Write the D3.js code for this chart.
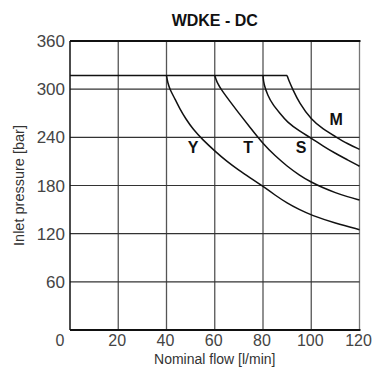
<!DOCTYPE html>
<html lang="en">
<head>
<meta charset="UTF-8">
<title>WDKE - DC</title>
<script src="https://d3js.org/d3.v7.min.js"></script>
<style>
  body { margin: 0; background: #fff; }
  svg text { font-family: 'Liberation Sans', Arial, sans-serif; }
</style>
</head>
<body>
<div id="chart"></div>
<script>
// axis ticks
const xTicks = [0, 20, 40, 60, 80, 100, 120];
const yTicks = [60, 120, 180, 240, 300, 360];

// limit line (max pressure) in [flow, pressure]
const limitLine = [[0, 317], [90, 317]];

// characteristic curves [flow, pressure]
const curveY = [[40, 317], [40.5, 308], [41.5, 299], [43.5, 288], [45.6, 275], [48, 263], [51, 250], [55, 237],
  [60, 223], [65, 210], [70, 199], [75, 189], [80, 179], [85, 168], [90, 158], [95, 150], [100, 143],
  [110, 133], [120, 125]];
const curveT = [[60, 317], [60.8, 309], [63, 298], [66, 286], [70, 270], [75, 251], [80, 232], [85, 217],
  [90, 204], [95, 193], [100, 184], [105, 177], [110, 171], [115, 166], [120, 162]];
const curveS = [[80, 317], [80.3, 306], [82, 292], [84, 281], [87, 270], [90, 259], [95, 248], [100, 239],
  [105, 229], [110, 220], [115, 212], [120, 204]];
const curveM = [[90, 317], [90.8, 310], [92.3, 300], [95, 283], [100, 262], [105, 250], [110, 241],
  [115, 232], [120, 225]];

const curveNames = ["Y", "T", "S", "M"];
const labelPos = [[51, 220], [73.8, 220.5], [95.8, 221], [110.3, 255]];

const W = 372, H = 372;
const svg = d3.select("#chart").append("svg")
  .attr("width", W).attr("height", H);

const x = d3.scaleLinear().domain([0, 120]).range([70, 359.5]);
const y = d3.scaleLinear().domain([0, 360]).range([330, 41]);

// title
svg.append("text")
  .attr("x", (x(0) + x(120)) / 2).attr("y", 26)
  .attr("text-anchor", "middle")
  .attr("font-size", "16px").attr("font-weight", "bold")
  .attr("fill", "#111")
  .text("WDKE - DC");

// grid
svg.append("g").selectAll("line")
  .data(xTicks.filter(d => d > 0))
  .join("line")
  .attr("x1", d => x(d)).attr("x2", d => x(d))
  .attr("y1", y(0)).attr("y2", y(360))
  .attr("stroke", d => d === 120 ? "#777" : "#555")
  .attr("stroke-width", 1.3);

svg.append("g").selectAll("line")
  .data(yTicks.filter(d => d < 360))
  .join("line")
  .attr("x1", x(0)).attr("x2", x(120))
  .attr("y1", d => y(d)).attr("y2", d => y(d))
  .attr("stroke", "#333")
  .attr("stroke-width", 1.2);

// frame: top, bottom, left
svg.append("line")
  .attr("x1", x(0)).attr("x2", x(120) + 1)
  .attr("y1", y(360)).attr("y2", y(360))
  .attr("stroke", "#111").attr("stroke-width", 2);
svg.append("line")
  .attr("x1", x(0)).attr("x2", x(120) + 1)
  .attr("y1", y(0)).attr("y2", y(0))
  .attr("stroke", "#111").attr("stroke-width", 2);
svg.append("line")
  .attr("x1", x(0)).attr("x2", x(0))
  .attr("y1", y(0)).attr("y2", y(360))
  .attr("stroke", "#111").attr("stroke-width", 1.5);

// tick labels
svg.append("g").selectAll("text")
  .data(yTicks)
  .join("text")
  .attr("x", x(0) - 5).attr("y", d => y(d))
  .attr("dy", "0.36em")
  .attr("text-anchor", "end")
  .attr("font-size", "17px").attr("fill", "#444")
  .text(d => d);

svg.append("g").selectAll("text")
  .data(xTicks)
  .join("text")
  .attr("x", d => x(d) + (d === 0 ? -10 : -1)).attr("y", y(0) + 16)
  .attr("text-anchor", "middle")
  .attr("font-size", "16px").attr("fill", "#444")
  .text(d => d);

// axis titles
svg.append("text")
  .attr("x", (x(0) + x(120)) / 2).attr("y", 364)
  .attr("text-anchor", "middle")
  .attr("font-size", "14px").attr("fill", "#333")
  .text("Nominal flow [l/min]");

svg.append("text")
  .attr("transform", `translate(24, ${(y(0) + y(360)) / 2}) rotate(-90)`)
  .attr("text-anchor", "middle")
  .attr("font-size", "14.5px").attr("fill", "#333")
  .text("Inlet pressure [bar]");

// curves
const line = d3.line()
  .x(d => x(d[0])).y(d => y(d[1]))
  .curve(d3.curveBasis);

svg.append("path")
  .attr("d", d3.line().x(d => x(d[0])).y(d => y(d[1]))(limitLine))
  .attr("fill", "none").attr("stroke", "#111").attr("stroke-width", 1.5);

[curveY, curveT, curveS, curveM].forEach(c => {
  svg.append("path")
    .attr("d", line(c))
    .attr("fill", "none").attr("stroke", "#111").attr("stroke-width", 1.5);
});

// curve labels
svg.append("g").selectAll("text")
  .data(curveNames)
  .join("text")
  .attr("x", (d, i) => x(labelPos[i][0]))
  .attr("y", (d, i) => y(labelPos[i][1]))
  .attr("text-anchor", "middle")
  .attr("font-size", "16px").attr("font-weight", "bold")
  .attr("fill", "#111")
  .text(d => d);
</script>
</body>
</html>
